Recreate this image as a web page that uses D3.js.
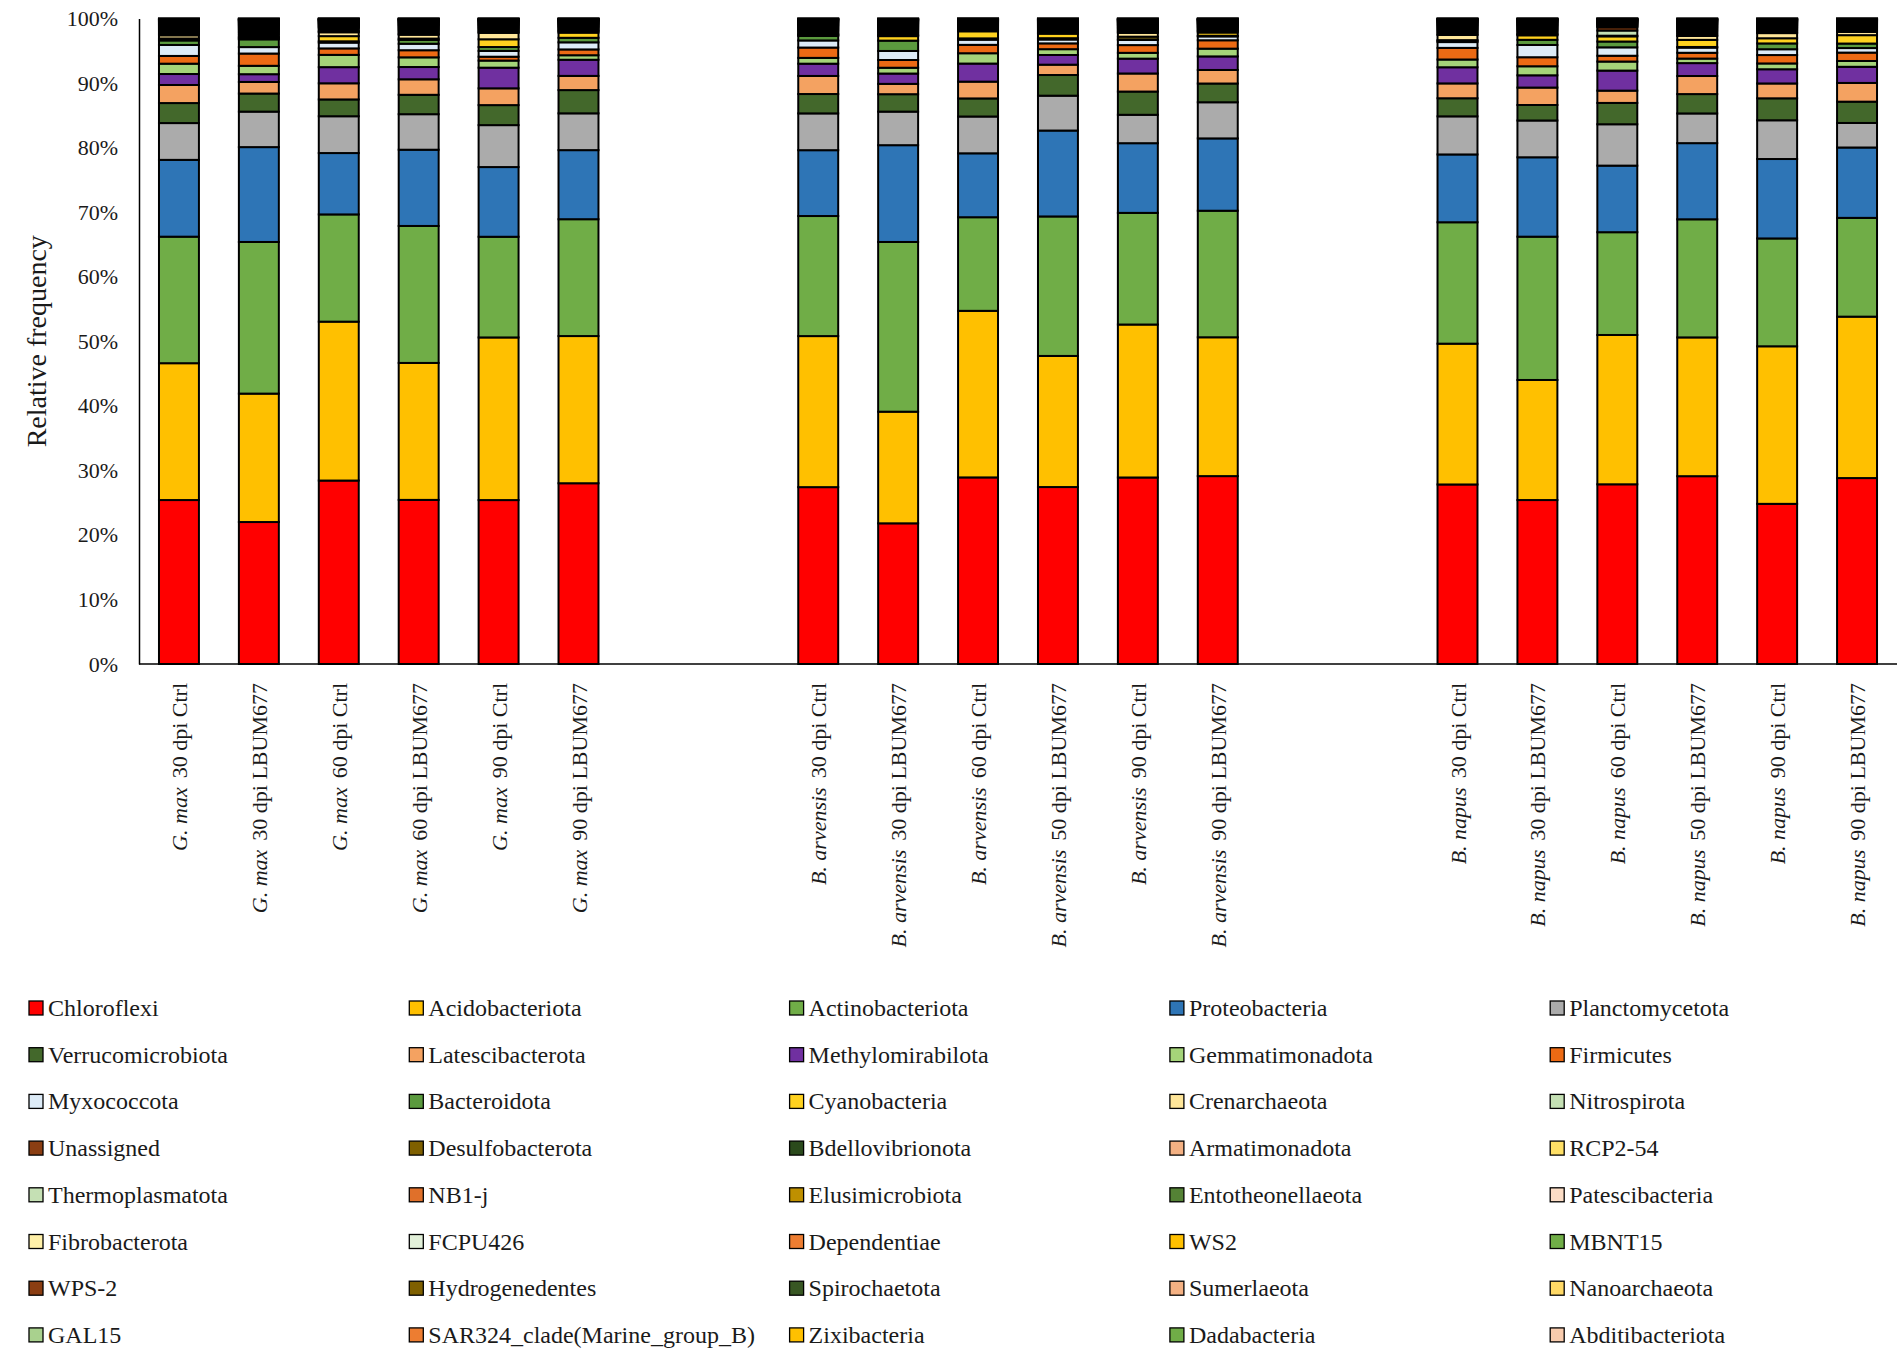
<!DOCTYPE html>
<html>
<head>
<meta charset="utf-8">
<script src="https://cdn.jsdelivr.net/npm/d3@7"></script>
<style>
  html, body { margin: 0; padding: 0; background: #fff; }
  svg { display: block; }
  text { font-family: "Liberation Serif", "Times New Roman", serif; fill: #1a1a1a; }
</style>
</head>
<body>
<svg id="chart" width="1900" height="1356"></svg>
<script>
// ---------- categories ----------
const groupSpecies = ["G. max", "B. arvensis", "B. napus"];
const sampleSpecies = [
  "G. max","G. max","G. max","G. max","G. max","G. max",
  "B. arvensis","B. arvensis","B. arvensis","B. arvensis","B. arvensis","B. arvensis",
  "B. napus","B. napus","B. napus","B. napus","B. napus","B. napus"
];
const sampleTreatments = [
  "30 dpi Ctrl","30 dpi LBUM677","60 dpi Ctrl","60 dpi LBUM677","90 dpi Ctrl","90 dpi LBUM677",
  "30 dpi Ctrl","30 dpi LBUM677","60 dpi Ctrl","50 dpi LBUM677","90 dpi Ctrl","90 dpi LBUM677",
  "30 dpi Ctrl","30 dpi LBUM677","60 dpi Ctrl","50 dpi LBUM677","90 dpi Ctrl","90 dpi LBUM677"
];
const yTickValues = [0, 10, 20, 30, 40, 50, 60, 70, 80, 90, 100];

// ---------- series names & colours (legend order) ----------
const phyla = [
  "Chloroflexi","Acidobacteriota","Actinobacteriota","Proteobacteria","Planctomycetota",
  "Verrucomicrobiota","Latescibacterota","Methylomirabilota","Gemmatimonadota","Firmicutes",
  "Myxococcota","Bacteroidota","Cyanobacteria","Crenarchaeota","Nitrospirota",
  "Unassigned","Desulfobacterota","Bdellovibrionota","Armatimonadota","RCP2-54",
  "Thermoplasmatota","NB1-j","Elusimicrobiota","Entotheonellaeota","Patescibacteria",
  "Fibrobacterota","FCPU426","Dependentiae","WS2","MBNT15",
  "WPS-2","Hydrogenedentes","Spirochaetota","Sumerlaeota","Nanoarchaeota",
  "GAL15","SAR324_clade(Marine_group_B)","Zixibacteria","Dadabacteria","Abditibacteriota"
];
const phylaColors = [
  "#FF0000","#FFC000","#70AD47","#2E75B6","#ABABAB",
  "#43682B","#F4A261","#7030A0","#A5D479","#EC6A14",
  "#DDEBF7","#5B9A3E","#FFD21F","#FFE699","#C5E0B4",
  "#8B3E12","#7F6000","#2B4A1C","#F4B183","#FFE066",
  "#C5E0B4","#E0702A","#BF9000","#548235","#FBDCC5",
  "#FFF0A8","#E2F0D9","#ED7D31","#FFC000","#70AD47",
  "#8B3E12","#7F6000","#385723","#F4B183","#FFD966",
  "#A9D18E","#ED7D31","#FFC000","#70AD47","#F8CBAD"
];

// ---------- values (% relative frequency, one per sample) ----------
const chloroflexi       = [25.4,22.0,28.4,25.4,25.4,28.0, 27.4,21.8,28.9,27.4,28.9,29.1, 27.8,25.4,27.8,29.1,24.8,28.8];
const acidobacteriota   = [21.2,19.9,24.6,21.2,25.2,22.8, 23.4,17.3,25.8,20.3,23.7,21.5, 21.8,18.6,23.1,21.5,24.4,25.0];
const actinobacteriota  = [19.6,23.5,16.6,21.2,15.6,18.1, 18.6,26.3,14.5,21.6,17.3,19.6, 18.8,22.2,15.9,18.3,16.7,15.3];
const proteobacteria    = [11.9,14.7,9.5,11.8,10.8,10.7, 10.2,15.0,9.9,13.3,10.8,11.2, 10.5,12.3,10.3,11.8,12.3,10.9];
const planctomycetota   = [5.7,5.5,5.7,5.5,6.5,5.7, 5.7,5.2,5.7,5.4,4.4,5.6, 5.9,5.7,6.4,4.6,6.0,3.8];
const verrucomicrobiota = [3.1,2.8,2.6,3.0,3.1,3.6, 3.0,2.7,2.8,3.2,3.6,2.9, 2.8,2.4,3.3,3.0,3.4,3.3];
const latescibacterota  = [2.8,1.8,2.5,2.4,2.6,2.2, 2.8,1.6,2.6,1.6,2.8,2.1, 2.3,2.7,1.9,2.8,2.3,2.9];
const methylomirabilota = [1.7,1.2,2.5,1.9,3.2,2.5, 1.9,1.6,2.8,1.5,2.3,2.1, 2.5,1.9,3.1,2.0,2.2,2.5];
const gemmatimonadota   = [1.6,1.3,1.9,1.5,1.1,0.7, 0.9,0.9,1.6,0.9,0.9,1.2, 1.2,1.4,1.4,0.7,0.9,0.9];
const firmicutes        = [1.2,1.9,1.0,1.1,0.6,0.9, 1.6,1.2,1.3,0.9,1.2,1.3, 1.8,1.4,0.9,0.9,1.3,1.3];
const myxococcota       = [1.7,1.0,0.9,1.0,0.9,1.1, 1.1,1.4,0.8,0.6,0.8,0.6, 0.9,1.9,1.3,0.8,0.9,0.7];
const bacteroidota      = [0.7,1.2,0.2,0.6,0.6,0.7, 0.7,1.6,0.2,0.2,0.1,0.1, 0.2,0.8,0.9,0.1,0.9,0.7];
const cyanobacteria     = [0.3,0.1,0.8,0.2,1.2,0.8, 0.1,0.7,1.1,0.7,0.4,0.5, 0.1,0.7,0.8,1.1,0.8,1.3];
const crenarchaeota     = [0.5,0.2,0.6,0.6,1.0,0.2, 0.1,0.1,0.2,0.1,0.6,0.2, 0.8,0.1,0.1,0.6,0.8,0.5];
const nitrospirota      = [0.2,0.1,0.1,0.1,0.1,0.1, 0.1,0.1,0.1,0.1,0.1,0.1, 0.1,0.1,0.8,0.1,0.1,0.2];
const unassigned        = [0.22,0.30,0.18,0.22,0.18,0.16, 0.22,0.24,0.15,0.20,0.18,0.16, 0.24,0.22,0.50,0.24,0.20,0.16];
const desulfobacterota  = [0.20,0.24,0.30,0.20,0.17,0.16, 0.20,0.22,0.14,0.18,0.17,0.15, 0.20,0.20,0.12,0.22,0.18,0.16];
const bdellovibrionota  = [0.18,0.22,0.14,0.18,0.16,0.15, 0.18,0.20,0.13,0.16,0.16,0.14, 0.18,0.18,0.12,0.20,0.17,0.14];
const armatimonadota    = [0.16,0.20,0.12,0.16,0.14,0.12, 0.16,0.16,0.11,0.14,0.14,0.12, 0.16,0.16,0.10,0.18,0.14,0.12];
const rcp2_54           = [0.15,0.18,0.11,0.15,0.13,0.12, 0.15,0.15,0.10,0.13,0.13,0.12, 0.15,0.15,0.09,0.16,0.13,0.12];
const thermoplasmatota  = [0.14,0.16,0.11,0.14,0.12,0.11, 0.14,0.14,0.10,0.12,0.12,0.11, 0.14,0.14,0.09,0.15,0.12,0.11];
const nb1_j             = [0.13,0.15,0.10,0.13,0.11,0.10, 0.13,0.13,0.09,0.11,0.11,0.10, 0.13,0.13,0.08,0.14,0.11,0.10];
const elusimicrobiota   = [0.11,0.13,0.09,0.12,0.10,0.09, 0.11,0.12,0.08,0.10,0.10,0.09, 0.12,0.11,0.07,0.13,0.10,0.09];
const entotheonellaeota = [0.11,0.13,0.09,0.11,0.10,0.09, 0.11,0.12,0.08,0.10,0.10,0.09, 0.12,0.11,0.07,0.12,0.10,0.09];
const patescibacteria   = [0.10,0.12,0.08,0.10,0.09,0.08, 0.10,0.11,0.07,0.09,0.09,0.08, 0.11,0.10,0.06,0.11,0.09,0.08];
const fibrobacterota    = [0.10,0.11,0.08,0.10,0.09,0.08, 0.10,0.10,0.07,0.09,0.09,0.08, 0.10,0.10,0.06,0.11,0.09,0.08];
const fcpu426           = [0.09,0.10,0.07,0.09,0.08,0.07, 0.09,0.09,0.06,0.08,0.08,0.07, 0.09,0.09,0.05,0.10,0.08,0.07];
const dependentiae      = [0.09,0.10,0.07,0.09,0.08,0.07, 0.09,0.09,0.06,0.08,0.08,0.07, 0.09,0.09,0.05,0.09,0.08,0.07];
const ws2               = [0.08,0.09,0.06,0.08,0.07,0.06, 0.08,0.08,0.05,0.07,0.07,0.06, 0.08,0.08,0.05,0.08,0.07,0.06];
const mbnt15            = [0.08,0.09,0.06,0.08,0.07,0.06, 0.08,0.08,0.05,0.07,0.07,0.06, 0.08,0.08,0.05,0.08,0.07,0.06];
const wps_2             = [0.07,0.08,0.05,0.07,0.06,0.05, 0.07,0.07,0.05,0.06,0.06,0.05, 0.07,0.07,0.04,0.07,0.06,0.05];
const hydrogenedentes   = [0.07,0.07,0.05,0.07,0.06,0.05, 0.07,0.07,0.05,0.06,0.06,0.05, 0.07,0.07,0.04,0.07,0.06,0.05];
const spirochaetota     = [0.06,0.06,0.05,0.06,0.05,0.05, 0.06,0.06,0.04,0.05,0.05,0.05, 0.06,0.06,0.04,0.06,0.05,0.05];
const sumerlaeota       = [0.05,0.06,0.04,0.05,0.05,0.04, 0.05,0.06,0.04,0.05,0.05,0.04, 0.05,0.05,0.03,0.06,0.05,0.04];
const nanoarchaeota     = [0.05,0.05,0.04,0.05,0.05,0.04, 0.05,0.05,0.04,0.05,0.05,0.04, 0.05,0.05,0.03,0.05,0.05,0.04];
const gal15             = [0.04,0.05,0.04,0.04,0.04,0.04, 0.04,0.05,0.03,0.04,0.04,0.04, 0.04,0.04,0.03,0.05,0.04,0.04];
const sar324            = [0.04,0.04,0.03,0.04,0.04,0.03, 0.04,0.04,0.03,0.04,0.04,0.03, 0.04,0.04,0.03,0.04,0.04,0.03];
const zixibacteria      = [0.03,0.04,0.03,0.03,0.03,0.03, 0.03,0.04,0.02,0.03,0.03,0.03, 0.03,0.03,0.02,0.04,0.03,0.03];
const dadabacteria      = [0.03,0.03,0.02,0.03,0.03,0.02, 0.03,0.03,0.02,0.03,0.03,0.02, 0.03,0.03,0.02,0.03,0.03,0.02];
const abditibacteriota  = [0.02,0.03,0.02,0.02,0.02,0.02, 0.02,0.03,0.02,0.02,0.02,0.02, 0.02,0.02,0.02,0.03,0.02,0.02];

const seriesValues = [
  chloroflexi, acidobacteriota, actinobacteriota, proteobacteria, planctomycetota,
  verrucomicrobiota, latescibacterota, methylomirabilota, gemmatimonadota, firmicutes,
  myxococcota, bacteroidota, cyanobacteria, crenarchaeota, nitrospirota,
  unassigned, desulfobacterota, bdellovibrionota, armatimonadota, rcp2_54,
  thermoplasmatota, nb1_j, elusimicrobiota, entotheonellaeota, patescibacteria,
  fibrobacterota, fcpu426, dependentiae, ws2, mbnt15,
  wps_2, hydrogenedentes, spirochaetota, sumerlaeota, nanoarchaeota,
  gal15, sar324, zixibacteria, dadabacteria, abditibacteriota
];

// ---------- build table ----------
const sampleIds = sampleTreatments.map((t, i) => sampleSpecies[i] + " " + t);
const table = sampleIds.map((id, i) => {
  const row = { id };
  phyla.forEach((p, k) => { row[p] = seriesValues[k][i]; });
  return row;
});

// slot domain: groups of 6 bars separated by two empty slots
const slotDomain = [];
groupSpecies.forEach((sp, g) => {
  sampleIds.forEach((id, i) => { if (sampleSpecies[i] === sp) slotDomain.push(id); });
  if (g < groupSpecies.length - 1) { slotDomain.push("gap" + g + "a"); slotDomain.push("gap" + g + "b"); }
});

// ---------- layout ----------
const svg = d3.select("#chart");
const plotLeft = 139, plotRight = 1897, plotTop = 18.5, plotBottom = 664;

const x = d3.scaleBand().domain(slotDomain).range([plotLeft, plotRight])
  .paddingInner(0.5).paddingOuter(0.25);
const y = d3.scaleLinear().domain([0, 1]).range([plotBottom, plotTop]);
const color = d3.scaleOrdinal().domain(phyla).range(phylaColors);

const stacked = d3.stack().keys(phyla).offset(d3.stackOffsetExpand)(table);

// bars
const barsG = svg.append("g");
barsG.selectAll("g.series").data(stacked).join("g")
  .attr("class", "series")
  .attr("fill", d => color(d.key))
  .selectAll("rect").data(d => d).join("rect")
  .attr("x", d => x(d.data.id))
  .attr("width", x.bandwidth())
  .attr("y", d => y(d[1]))
  .attr("height", d => Math.max(0, y(d[0]) - y(d[1])))
  .attr("stroke", "#000")
  .attr("stroke-width", 2);

// axes
const yPct = d3.scaleLinear().domain([0, 100]).range([plotBottom, plotTop]);
const yAxis = svg.append("g")
  .attr("transform", `translate(${plotLeft},0)`)
  .call(d3.axisLeft(yPct).tickValues(yTickValues).tickFormat(d => d + "%").tickSize(0).tickPadding(21));
yAxis.select(".domain").attr("stroke", "#000").attr("stroke-width", 1.5);
yAxis.selectAll("text")
  .style("font-family", '"Liberation Serif", serif')
  .style("font-size", "22px")
  .attr("fill", "#1a1a1a");

svg.append("line")
  .attr("x1", plotLeft).attr("x2", plotRight)
  .attr("y1", plotBottom).attr("y2", plotBottom)
  .attr("stroke", "#000").attr("stroke-width", 1.5);

// y-axis title
svg.append("text")
  .attr("transform", `translate(36,${(plotTop + plotBottom) / 2}) rotate(-90)`)
  .attr("text-anchor", "middle")
  .attr("dominant-baseline", "central")
  .style("font-size", "28px")
  .text("Relative frequency");

// x labels (rotated)
const xl = svg.append("g").selectAll("text").data(sampleIds).join("text")
  .attr("transform", (d) => `translate(${x(d) + x.bandwidth() / 2},${plotBottom + 19}) rotate(-90)`)
  .attr("text-anchor", "end")
  .attr("dominant-baseline", "central")
  .style("font-size", "22px");
xl.append("tspan").style("font-style", "italic").text((d, i) => sampleSpecies[i]);
xl.append("tspan").attr("dx", 9).text((d, i) => sampleTreatments[i]);

// legend
const legCols = 5, legX0 = 29, legColW = 380.3, legY0 = 1008, legRowH = 46.7;
const leg = svg.append("g").selectAll("g").data(phyla).join("g")
  .attr("transform", (d, i) => `translate(${legX0 + (i % legCols) * legColW},${legY0 + Math.floor(i / legCols) * legRowH})`);
leg.append("rect")
  .attr("x", 0).attr("y", -7).attr("width", 14).attr("height", 14)
  .attr("fill", d => color(d)).attr("stroke", "#000").attr("stroke-width", 1.3);
leg.append("text")
  .attr("x", 19).attr("y", 0)
  .attr("dominant-baseline", "central")
  .style("font-size", "24px")
  .text(d => d);
</script>
</body>
</html>
